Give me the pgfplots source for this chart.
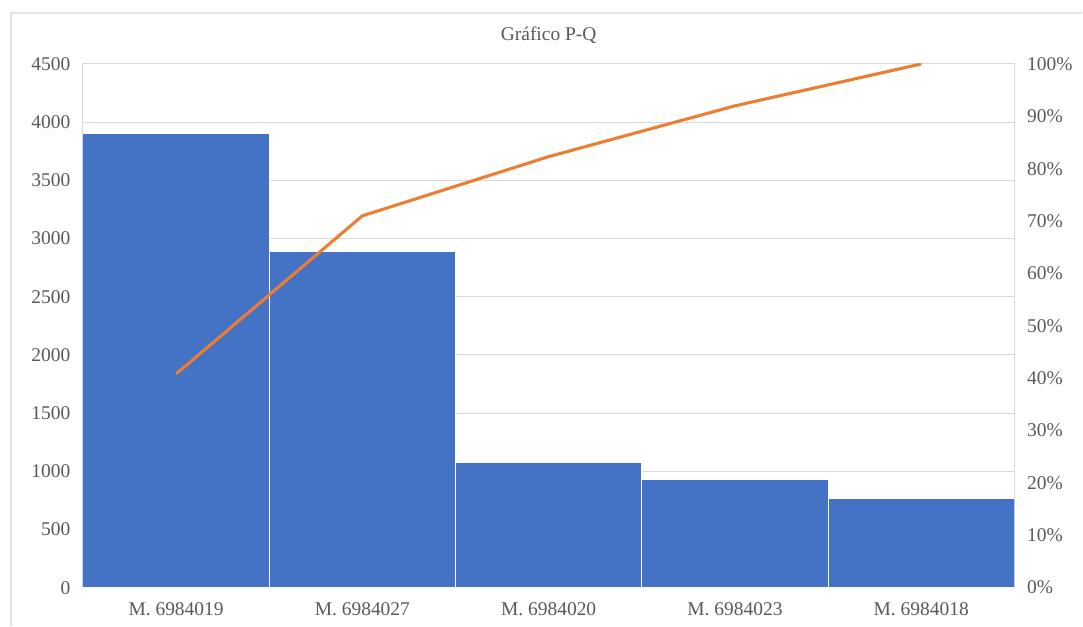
\documentclass[border=0pt]{standalone}
\usepackage{pgfplots}
\pgfplotsset{compat=1.18}
\usepackage{fontspec}
\setmainfont{Liberation Serif}

\definecolor{barblue}{HTML}{4472C4}
\definecolor{cumorange}{HTML}{ED7D31}
\definecolor{gridgray}{HTML}{D9D9D9}
\definecolor{textgray}{HTML}{595959}
\definecolor{framegray}{HTML}{E3E3E3}

\newcommand{\lblfont}{\fontsize{14.6}{17}\selectfont}

\pgfplotsset{
  paretobase/.style={
    at={(62.25pt,28.5pt)}, anchor=south west,
    scale only axis, width=699pt, height=393pt,
    xmin=-0.5, xmax=4.5,
    major tick length=0pt,
    tick label style={font=\lblfont, text=textgray},
    /pgf/number format/assume math mode=true,
    /pgf/number format/1000 sep={},
  }
}

\begin{document}
\begin{tikzpicture}
\path (0pt,0pt) rectangle (812.25pt,469.5pt);
% outer chart frame (top and left edges)
\draw[framegray, line width=1pt] (8.25pt,0pt) -- (8.25pt,459.75pt) -- (812.25pt,459.75pt);

% quantities per item
\begin{axis}[
  paretobase,
  ymin=0, ymax=4500,
  ytick={0,500,...,4500},
  xtick={0,1,2,3,4},
  xticklabels={M. 6984019, M. 6984027, M. 6984020, M. 6984023, M. 6984018},
  xticklabel style={yshift=-8pt},
  yticklabel style={xshift=-6pt},
  ymajorgrids,
  grid style={gridgray, line width=0.8pt},
  axis line style={gridgray, line width=0.8pt},
  axis lines=box,
  ybar, bar width=1,
  title={Gráfico P-Q},
  title style={font=\lblfont, text=textgray, yshift=6pt},
]
\addplot[fill=barblue, draw=white, line width=0.7pt] coordinates {
  (0,3905) (1,2886) (2,1076) (3,933) (4,762)
};
\end{axis}

% cumulative percentage
\begin{axis}[
  paretobase,
  ymin=0, ymax=100,
  axis x line=none,
  axis y line*=right,
  axis line style={draw=none},
  ytick={0,10,...,100},
  yticklabels={0\%,10\%,20\%,30\%,40\%,50\%,60\%,70\%,80\%,90\%,100\%},
  yticklabel style={xshift=6pt},
]
\addplot[cumorange, line width=2.3pt, line join=round] coordinates {
  (0,40.8) (1,71.0) (2,82.3) (3,92.0) (4,100)
};
\end{axis}
\end{tikzpicture}
\end{document}
